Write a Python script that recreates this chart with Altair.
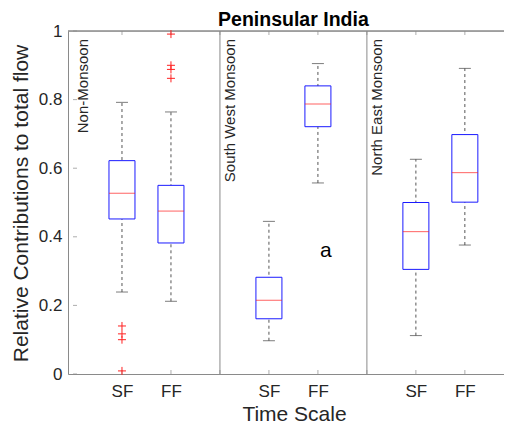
import altair as alt
import pandas as pd

# ---- data ----
positions = [1, 2, 4, 5, 7, 8]
scales = ["SF", "FF", "SF", "FF", "SF", "FF"]
lower_whisker = [0.239, 0.212, 0.097, 0.557, 0.112, 0.376]
q1 = [0.452, 0.382, 0.161, 0.721, 0.305, 0.501]
median = [0.527, 0.475, 0.215, 0.787, 0.415, 0.587]
q3 = [0.622, 0.550, 0.282, 0.840, 0.500, 0.698]
upper_whisker = [0.792, 0.764, 0.445, 0.905, 0.626, 0.891]

outlier_pos = [1, 1, 1, 1, 2, 2, 2, 2]
outlier_val = [0.140, 0.117, 0.100, 0.009, 0.991, 0.900, 0.888, 0.862]

panel_starts = [0, 3, 6]
panel_names = ["Non-Monsoon", "South West Monsoon", "North East Monsoon"]
separators = [3, 6]
x_ticks = [1, 2, 3, 4, 5, 6, 7, 8]
y_ticks = [0, 0.2, 0.4, 0.6, 0.8, 1]

annot_x = [5.16]
annot_y = [0.34]
annot_text = ["a"]

title_x = [4.5]
title_text = ["Peninsular India"]

FONT = "Liberation Sans"
FRAME = "#8a8a8a"
LABEL = "#262626"

box_df = pd.DataFrame({
    "pos": positions, "scale": scales, "lower": lower_whisker, "q1": q1,
    "median": median, "q3": q3, "upper": upper_whisker,
})
out_df = pd.DataFrame({"pos": outlier_pos, "val": outlier_val})
panel_df = pd.DataFrame({"pos": panel_starts, "name": panel_names})
sep_df = pd.DataFrame({"pos": separators})
xt_df = pd.DataFrame({"pos": x_ticks})
yt_df = pd.DataFrame({"val": y_ticks})
annot_df = pd.DataFrame({"x": annot_x, "y": annot_y, "t": annot_text})
title_df = pd.DataFrame({"x": title_x, "t": title_text})

label_expr = " : ".join(
    f"datum.value == {p} ? '{s}'" for p, s in zip(positions, scales)
) + " : ''"

PLOT_W = 436
PLOT_H = 343
xscale = alt.Scale(domain=[0, 8.697], nice=False, zero=False)
yscale = alt.Scale(domain=[0, 1], nice=False, zero=False)

xaxis = alt.Axis(
    values=positions, labelExpr=label_expr, ticks=False, tickSize=0, grid=False,
    domainColor=FRAME, domainWidth=1, labelFont=FONT, labelFontSize=17,
    labelColor=LABEL, labelBaseline="alphabetic", labelPadding=22,
    title="Time Scale", titleFont=FONT, titleFontSize=21, titleFontWeight="normal",
    titleColor=LABEL, titleBaseline="alphabetic", titleAlign="center",
    titleX=226, titleY=46,
)
yaxis = alt.Axis(
    values=y_ticks, format="~g", ticks=False, tickSize=0, grid=False,
    domainColor=FRAME, domainWidth=1, labelFont=FONT, labelFontSize=17,
    labelColor=LABEL, labelPadding=6,
    title="Relative Contributions to total flow", titleFont=FONT, titleFontSize=21,
    titleFontWeight="normal", titleColor=LABEL, titleBaseline="alphabetic",
    titleAlign="center", titleAngle=270, titleX=-41, titleY=172,
)


def X(field):
    return alt.X(field, type="quantitative", scale=xscale, axis=xaxis)


def Y(field):
    return alt.Y(field, type="quantitative", scale=yscale, axis=yaxis)


base = alt.Chart(box_df)

whiskers = base.mark_rule(color="#555555", strokeDash=[3, 3], strokeWidth=1).encode(
    x=X("pos"), y=Y("lower"), y2="upper"
)
cap_low = base.mark_tick(orient="horizontal", size=12, thickness=1, color="#444444").encode(
    x=X("pos"), y=Y("lower")
)
cap_up = base.mark_tick(orient="horizontal", size=12, thickness=1, color="#444444").encode(
    x=X("pos"), y=Y("upper")
)
boxes = base.mark_bar(fill="white", stroke="#1a1aff", strokeWidth=1, size=26).encode(
    x=X("pos"), y=Y("q1"), y2="q3"
)
medians = base.mark_tick(orient="horizontal", size=26, thickness=1, color="#ff2020").encode(
    x=X("pos"), y=Y("median")
)
outliers = alt.Chart(out_df).mark_point(
    shape="M-1,0L1,0M0,-1L0,1", size=64, filled=False, color="#ff2020",
    strokeWidth=1, opacity=1,
).encode(x=X("pos"), y=Y("val"))

top_border = alt.Chart(sep_df).mark_rule(color=FRAME, strokeWidth=1).encode(
    y=alt.datum(1)
)
seps = alt.Chart(sep_df).mark_rule(color=FRAME, strokeWidth=1).encode(x=X("pos"))

top_ticks = alt.Chart(xt_df).mark_tick(
    orient="vertical", size=4, thickness=1, color=FRAME, yOffset=2
).encode(x=X("pos"), y=alt.datum(1))
bot_ticks = alt.Chart(xt_df).mark_tick(
    orient="vertical", size=4, thickness=1, color=FRAME, yOffset=-2
).encode(x=X("pos"), y=alt.datum(0))
left_ticks = alt.Chart(yt_df).mark_tick(
    orient="horizontal", size=4, thickness=1, color=FRAME, xOffset=2
).encode(x=alt.datum(0), y=Y("val"))

# rotated text: dx runs along the text (up the screen), dy across it (to the right)
panel_labels = alt.Chart(panel_df).mark_text(
    angle=270, align="right", baseline="alphabetic", font=FONT, fontSize=15,
    color=LABEL, dx=-8, dy=15,
).encode(x=X("pos"), y=alt.datum(1), text="name")

annot = alt.Chart(annot_df).mark_text(
    align="center", baseline="alphabetic", font=FONT, fontSize=21, color="black"
).encode(x=X("x"), y=Y("y"), text="t")

title = alt.Chart(title_df).mark_text(
    align="center", baseline="alphabetic", font=FONT, fontSize=19.5,
    fontWeight="bold", color="black", dy=-5,
).encode(x=X("x"), y=alt.datum(1), text="t")

chart = alt.layer(
    top_border, seps, top_ticks, bot_ticks, left_ticks,
    whiskers, cap_low, cap_up, boxes, medians, outliers, panel_labels, annot, title,
).properties(
    width=PLOT_W,
    height=PLOT_H,
    autosize=alt.AutoSizeParams(type="none"),
    padding={"left": 60, "top": 23, "right": 0, "bottom": 52},
).configure_view(strokeWidth=0).configure(background="white")

chart.save("out.html", embed_options={"renderer": "svg", "actions": False})
